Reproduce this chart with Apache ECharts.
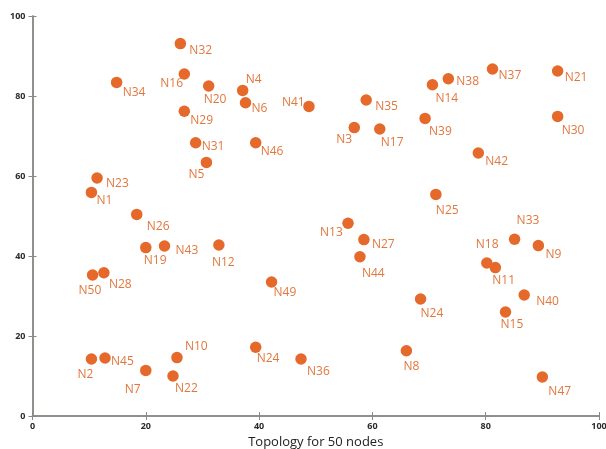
<!DOCTYPE html>
<html>
<head>
<meta charset="utf-8">
<script src="https://cdn.jsdelivr.net/npm/echarts@6/dist/echarts.min.js"></script>
<style>
  html, body { margin: 0; padding: 0; background: #fff; }
  #chart { width: 606px; height: 449px; }
</style>
</head>
<body>
<div id="chart"></div>
<script>
// node names and coordinates
const nodeNames = [
  'N1', 'N2', 'N3', 'N4', 'N5', 'N6', 'N7', 'N8', 'N9', 'N10',
  'N11', 'N12', 'N13', 'N14', 'N15', 'N16', 'N17', 'N18', 'N19', 'N20',
  'N21', 'N22', 'N23', 'N24', 'N24', 'N25', 'N26', 'N27', 'N28', 'N29',
  'N30', 'N31', 'N32', 'N33', 'N34', 'N35', 'N36', 'N37', 'N38', 'N39',
  'N40', 'N41', 'N42', 'N43', 'N44', 'N45', 'N46', 'N47', 'N49', 'N50'
];
const nodeX = [
  10.4, 10.4, 56.8, 37.1, 30.7, 37.6, 20.0, 66.0, 89.3, 25.5,
  81.7, 32.9, 55.7, 70.6, 83.5, 26.8, 61.3, 80.2, 20.0, 31.1,
  92.7, 24.8, 11.4, 39.4, 68.5, 71.2, 18.4, 58.5, 12.6, 26.8,
  92.7, 28.8, 26.1, 85.1, 14.85, 58.9, 47.4, 81.2, 73.4, 69.3,
  86.8, 48.8, 78.7, 23.3, 57.8, 12.8, 39.4, 90.0, 42.2, 10.6
];
const nodeY = [
  55.9, 14.25, 72.1, 81.4, 63.4, 78.3, 11.4, 16.3, 42.6, 14.6,
  37.1, 42.75, 48.2, 82.8, 26.0, 85.5, 71.75, 38.25, 42.1, 82.5,
  86.25, 10.0, 59.5, 17.2, 29.25, 55.4, 50.4, 44.1, 35.8, 76.2,
  74.9, 68.3, 93.1, 44.2, 83.4, 79.0, 14.25, 86.75, 84.3, 74.4,
  30.25, 77.4, 65.75, 42.5, 39.8, 14.5, 68.3, 9.75, 33.5, 35.25
];
const axisTicks = [0, 20, 40, 60, 80, 100];

// where each label sits relative to its dot: [text start dx, text middle dy] in px
const labelOffsets = [
  [5, 8], [-14, 16], [-18, 12], [3, -11], [-18, 12], [6, 6], [-21, 19], [-3, 16], [7, 9], [8, -11],
  [-3, 13], [-7, 18], [-28, 9], [3, 14], [-5, 13], [-24, 10], [1, 14], [-11, -18], [-2, 13], [-5, 14],
  [7, 7], [2, 13], [9, 6], [1, 11], [0, 15], [0, 16], [10, 12], [8, 5], [5, 12], [6, 9],
  [4, 14], [6, 4], [9, 7], [2, -19], [6, 10], [9, 7], [6, 13], [6, 7], [8, 3], [4, 13],
  [12, 7], [-27, -4], [7, 9], [11, 5], [2, 17], [6, 4], [5, 9], [6, 15], [2, 11], [-14, 16]
];

const chart = echarts.init(document.getElementById('chart'));

const frameLine = { show: true, lineStyle: { color: '#8c8884', width: 1.5 } };
const tickIn = { show: true, inside: true, length: 4, lineStyle: { color: '#8c8884', width: 1 } };
const tickLabel = { fontSize: 9, color: '#2a2a2a', fontWeight: 'bold', fontFamily: 'Open Sans' };

const points = nodeNames.map((name, i) => ({
  name: name,
  value: [nodeX[i], nodeY[i]],
  label: { offset: labelOffsets[i] }
}));

chart.setOption({
  animation: false,
  grid: { left: 32.5, right: 7, top: 16, bottom: 33, outerBoundsMode: 'none' },
  xAxis: [
    {
      type: 'value', min: 0, max: 100, interval: 20,
      name: 'Topology for 50 nodes', nameLocation: 'middle', nameGap: 17,
      nameTextStyle: { fontSize: 13, color: '#222', fontFamily: 'Open Sans' },
      axisLine: frameLine, axisTick: tickIn, splitLine: { show: false },
      axisLabel: Object.assign({ margin: 6 }, tickLabel),
      data: axisTicks
    },
    {
      type: 'value', min: 0, max: 100, interval: 20, position: 'top',
      axisLine: frameLine, axisTick: tickIn, splitLine: { show: false },
      axisLabel: { show: false }
    }
  ],
  yAxis: [
    {
      type: 'value', min: 0, max: 100, interval: 20,
      axisLine: frameLine, axisTick: tickIn, splitLine: { show: false },
      axisLabel: Object.assign({ margin: 7 }, tickLabel)
    },
    {
      type: 'value', min: 0, max: 100, interval: 20, position: 'right',
      axisLine: frameLine, axisTick: tickIn, splitLine: { show: false },
      axisLabel: { show: false }
    }
  ],
  series: [{
    type: 'scatter',
    symbolSize: 11.5,
    itemStyle: { color: '#e5692a', opacity: 1 },
    label: {
      show: true,
      position: 'inside',
      align: 'left',
      verticalAlign: 'middle',
      formatter: '{b}',
      fontSize: 12,
      color: '#e2773e',
      fontFamily: 'Open Sans'
    },
    data: points
  }]
});
</script>
</body>
</html>
